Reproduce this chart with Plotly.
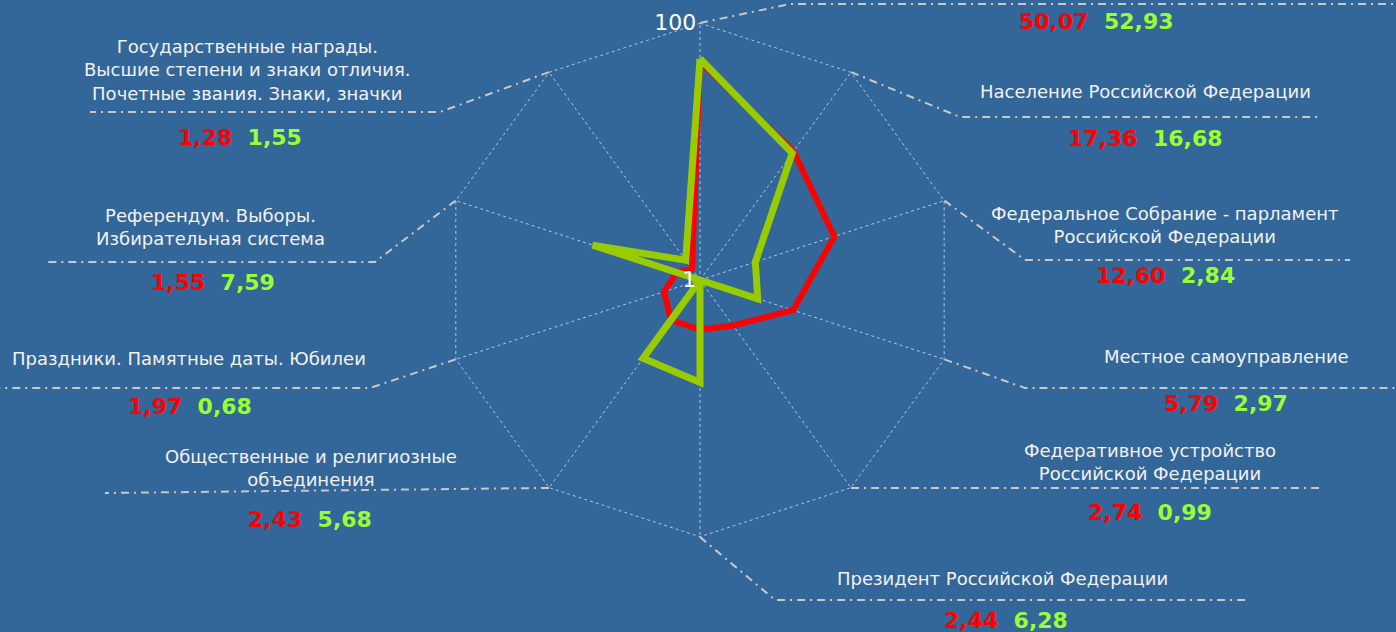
import math
import plotly.graph_objects as go

# ---------------- data ----------------
categories = [
    "",
    "Население Российской Федерации",
    "Федеральное Собрание - парламент<br>Российской Федерации",
    "Местное самоуправление",
    "Федеративное устройство<br>Российской Федерации",
    "Президент Российской Федерации",
    "Общественные и религиозные<br>объединения",
    "Праздники. Памятные даты. Юбилеи",
    "Референдум. Выборы.<br>Избирательная система",
    "Государственные награды.<br>Высшие степени и знаки отличия.<br>Почетные звания. Знаки, значки",
]
red_values = [50.07, 17.36, 12.60, 5.79, 2.74, 2.44, 2.43, 1.97, 1.55, 1.28]
green_values = [52.93, 16.68, 2.84, 2.97, 0.99, 6.28, 5.68, 0.68, 7.59, 1.55]
radial_ticks = [1, 100]

# ---------------- layout constants ----------------
W, H = 1396, 632
CX, CY, R = 700, 280, 257
BG = "#336699"
RED = "#FF0000"
GREEN_LINE = "#99CC00"
GREEN_TEXT = "#99FF33"
LEADER = "#C8C8C8"
GRID = "#AFC3EE"

n = len(categories)
theta = [i * 360 / n for i in range(n)]


def px(x):
    return x / W


def py(y):
    return 1 - y / H


def closed(seq):
    return list(seq) + [seq[0]]


r_red = [max(v, 1) for v in red_values]
r_green = [max(v, 1) for v in green_values]

fig = go.Figure()
# outer dotted boundary at the top radial tick
fig.add_trace(go.Scatterpolar(
    r=closed([radial_ticks[-1]] * n), theta=closed(theta), mode="lines",
    line=dict(color=GRID, width=1, dash="dot"), hoverinfo="skip", showlegend=False))
fig.add_trace(go.Scatterpolar(
    r=closed(r_red), theta=closed(theta), mode="lines",
    line=dict(color=RED, width=6), hoverinfo="skip", showlegend=False))
fig.add_trace(go.Scatterpolar(
    r=closed(r_green), theta=closed(theta), mode="lines",
    line=dict(color=GREEN_LINE, width=7), hoverinfo="skip", showlegend=False))

fig.update_layout(
    width=W, height=H,
    margin=dict(l=0, r=0, t=0, b=0),
    paper_bgcolor=BG,
    showlegend=False,
    polar=dict(
        domain=dict(x=[(CX - R) / W, (CX + R) / W], y=[py(CY + R), py(CY - R)]),
        bgcolor=BG,
        gridshape="linear",
        angularaxis=dict(
            type="linear", rotation=90, direction="clockwise",
            tickvals=theta, showticklabels=False, ticks="",
            showgrid=True, gridcolor=GRID, griddash="dot", gridwidth=1,
            showline=False,
        ),
        radialaxis=dict(
            type="log", range=[0, 2.002], angle=90,
            tickvals=radial_ticks, ticktext=[str(t) for t in radial_ticks],
            tickfont=dict(family="DejaVu Sans", size=22, color="white"),
            showgrid=False,
            showline=False, ticks="", side="counterclockwise", tickangle=90,
        ),
    ),
)

# ---------------- labels ----------------
# (label center x, label center y, values center x, values y, leader elbow, leader end)
label_pos = [
    (None, None, 1096, 22, (790, 4), (1396, 4)),
    (1145, 91, 1145, 138, (960, 117), (1320, 117)),
    (1165, 225, 1165, 275, (1025, 260), (1350, 260)),
    (1226, 356, 1226, 403, (1025, 388), (1396, 388)),
    (1150, 462, 1150, 512, None, (1320, 488)),
    (1002, 578, 1006, 620, (775, 600), (1250, 600)),
    (311, 468, 310, 519, None, (105, 493)),
    (189, 358, 190, 406, (370, 388), (0, 388)),
    (210, 227, 213, 283, (375, 262), (45, 262)),
    (247, 70, 240, 137, (440, 112), (90, 112)),
]

shapes = []
annotations = []
for i in range(n):
    lx, ly, vx, vy, elbow, end = label_pos[i]
    ang = math.radians(theta[i])
    sx = CX + R * math.sin(ang)
    sy = CY - R * math.cos(ang)
    pts = [(sx, sy)] + ([elbow] if elbow else []) + [end]
    path = "M " + " L ".join(f"{px(x):.5f},{py(y):.5f}" for x, y in pts)
    shapes.append(dict(type="path", path=path, xref="paper", yref="paper",
                       line=dict(color=LEADER, width=2, dash="8px,5px,2px,5px")))
    if lx is not None and categories[i]:
        annotations.append(dict(
            x=px(lx), y=py(ly), xref="paper", yref="paper", showarrow=False,
            text=categories[i], xanchor="center", yanchor="middle", align="center",
            font=dict(family="DejaVu Sans", size=18, color="#F2F2F2")))
    rv = f"{red_values[i]:.2f}".replace(".", ",")
    gv = f"{green_values[i]:.2f}".replace(".", ",")
    annotations.append(dict(
        x=px(vx), y=py(vy), xref="paper", yref="paper", showarrow=False,
        text=f"<b><span style='color:{RED}'>{rv}</span>&nbsp;&nbsp;"
             f"<span style='color:{GREEN_TEXT}'>{gv}</span></b>",
        xanchor="center", yanchor="middle",
        font=dict(family="DejaVu Sans", size=22, color=RED)))

fig.update_layout(shapes=shapes, annotations=annotations)
fig.write_html(
    "out.html",
    config={"displayModeBar": False},
    post_script="document.body.style.margin='0';document.body.style.overflow='hidden';",
)
